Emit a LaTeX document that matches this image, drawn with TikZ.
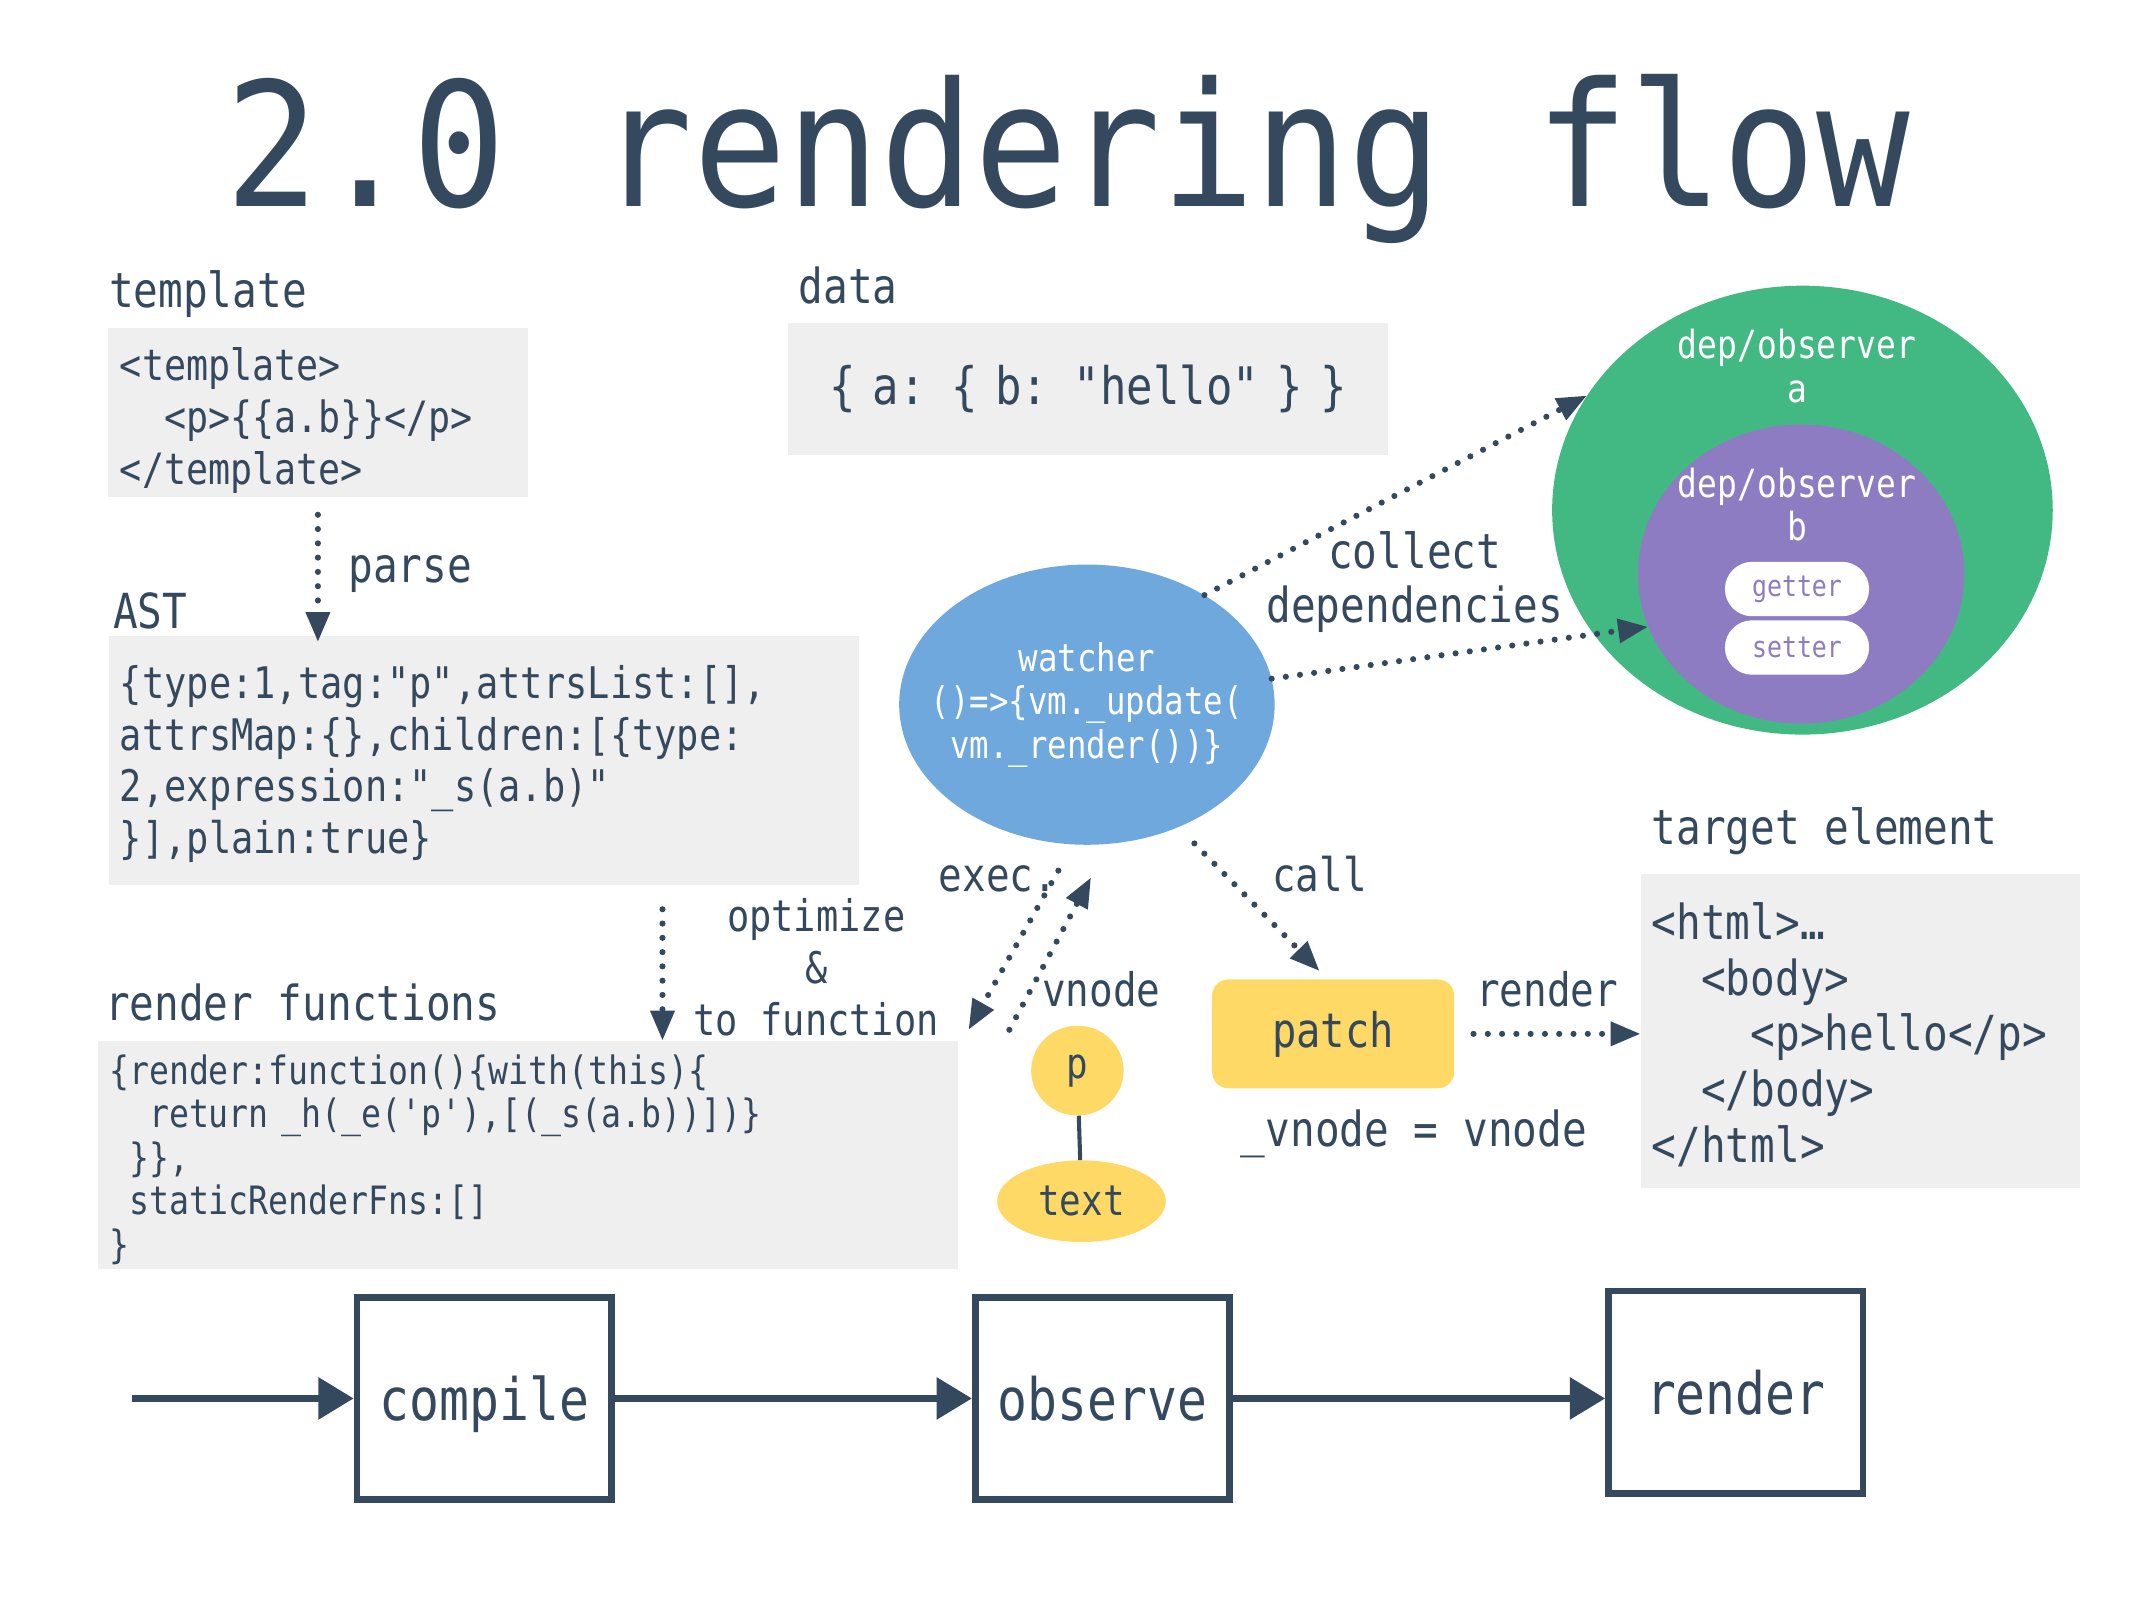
\documentclass[tikz,border=0pt]{standalone}
\usepackage{fontspec}
\setmonofont{DejaVu Sans Mono}[FakeStretch=0.85]
\newfontfamily\titlefont{DejaVu Sans Mono}[FakeStretch=0.9]
\usetikzlibrary{arrows.meta, positioning, shapes.geometric, calc}
\definecolor{vueDark}{HTML}{35495E}
\definecolor{vueGreen}{HTML}{42B983}
\definecolor{boxGray}{HTML}{EFEFEF}
\definecolor{watchBlue}{HTML}{6FA8DC}
\definecolor{depPurple}{HTML}{8E7CC3}
\definecolor{vnodeYellow}{HTML}{FFD966}
\newcommand{\fsize}[2]{\fontsize{#1}{#2}\selectfont}
\tikzset{
  lbl/.style={inner sep=0pt, anchor=mid west, text=vueDark,
              font=\ttfamily\fsize{35.5}{40}},
  codebox/.style={rectangle, fill=boxGray, anchor=north west, align=left,
                  inner ysep=0pt, text=vueDark},
  dotArrow/.style={vueDark, line width=4.5pt, line cap=round,
                   dash pattern=on 0pt off 10.5pt,
                   -{Triangle[length=22pt, width=17pt]}},
  flowArrow/.style={vueDark, line width=5pt, -{Triangle[length=26pt, width=30pt]}},
  stageBox/.style={rectangle, draw=vueDark, line width=5pt, minimum width=187pt,
                   minimum height=149pt, inner sep=0pt, text=vueDark, text depth=0pt,
                   font=\ttfamily\fsize{43}{43}},
  depText/.style={inner sep=0pt, text=white, align=center,
                  font=\ttfamily\fsize{28.5}{32}},
  accessor/.style={rectangle, rounded corners=20pt, fill=white, minimum width=106pt,
                   minimum height=40pt, inner sep=0pt, text=depPurple,
                   font=\ttfamily\fsize{21.5}{22}},
  vnodeBubble/.style={ellipse, fill=vnodeYellow, inner sep=0pt, text=vueDark,
                      font=\ttfamily\fsize{31}{31}},
}
\begin{document}
\begin{tikzpicture}[x=1pt, y=-1pt]
  \fill[white] (0,0) rectangle (1568,1176);
  \useasboundingbox (0,0) rectangle (1568,1176);

  % title
  \node[text=vueDark, font=\titlefont\fsize{127}{127}, anchor=base, inner sep=0pt]
    (title) at (785,152) {2.0 rendering flow};

  % compile side
  \node[lbl] (tplLbl) at (80,224) {template};
  \node[codebox, minimum width=309pt, minimum height=124pt, inner xsep=9pt,
        text width=291pt, font=\ttfamily\fsize{31.7}{38}] (tplBox) at (79,241)
    {\rule{0pt}{36pt}<template>\\\phantom{xx}<p>\{\{a.b\}\}</p>\\</template>};
  \node[lbl] (astLbl) at (83,460) {AST};
  \node[codebox, minimum width=551pt, minimum height=183pt, inner xsep=8pt,
        text width=535pt, font=\ttfamily\fsize{32}{38}] (astBox) at (80,467)
    {\rule{0pt}{30pt}\{type:1,tag:"p",attrsList:[],\\attrsMap:\{\},children:[\{type:\\2,expression:"\_s(a.b)"\\\}],plain:true\}};
  \node[lbl] (parseLbl) at (256,426) {parse};
  \node[lbl] (rfLbl) at (77,748) {render functions};
  \node[codebox, minimum width=632pt, minimum height=168pt, inner xsep=8pt,
        text width=616pt, font=\ttfamily\fsize{28.7}{32}] (rfBox) at (72,765)
    {\rule{0pt}{28pt}\{render:function()\{with(this)\{\\\phantom{xx}return \_h(\_e('p'),[(\_s(a.b))])\}\\\phantom{x}\}\},\\\phantom{x}staticRenderFns:[]\\\}};
  \node[lbl, anchor=center, align=center, font=\ttfamily\fsize{32}{38}]
    (optLbl) at (600,711) {optimize\\\&\\to function};

  % data and dependencies
  \node[lbl] (dataLbl) at (587,221) {data};
  \node[codebox, minimum width=441pt, minimum height=97pt, inner xsep=8pt,
        text width=425pt, align=center, font=\ttfamily\fsize{38}{40}] (dataBox) at (579,237)
    {\{ a: \{ b: "hello" \} \}};
  \node[ellipse, fill=vueGreen, minimum width=368pt, minimum height=330pt,
        inner sep=0pt] (depA) at (1325,375) {};
  \node[ellipse, fill=depPurple, minimum width=240pt, minimum height=220pt,
        inner sep=0pt] (depB) at (1324,422) {};
  \node[depText] (depAlbl) at (1321,269) {dep/observer\\a};
  \node[depText] (depBlbl) at (1321,371) {dep/observer\\b};
  \node[accessor] (getter) at (1321,433) {getter};
  \node[accessor] (setter) at (1321,476) {setter};

  \node[ellipse, fill=watchBlue, minimum width=276pt, minimum height=206pt,
        inner sep=0pt] (watcher) at (799,518) {};
  \node[inner sep=0pt, text=white, align=center, font=\ttfamily\fsize{28}{32}]
    (watcherLbl) at (watcher.center) {watcher\\()=>\{vm.\_update(\\vm.\_render())\}};
  \node[lbl, anchor=center, align=center] (collectLbl) at (1040,428) {collect\\dependencies};

  % vnode and patch
  \node[lbl, font=\ttfamily\fsize{34}{34}] (execLbl) at (690,653) {exec.};
  \node[lbl, font=\ttfamily\fsize{34}{34}] (callLbl) at (935,653) {call};
  \node[lbl, font=\ttfamily\fsize{34}{34}] (vnodeLbl) at (766,738) {vnode};
  \node[vnodeBubble, minimum width=68pt, minimum height=66pt] (vp) at (792,787) {p};
  \node[vnodeBubble, minimum width=124pt, minimum height=60pt] (vtext) at (795,883) {text};
  \node[rectangle, rounded corners=12pt, fill=vnodeYellow, minimum width=178pt,
        minimum height=80pt, inner sep=0pt, text=vueDark,
        font=\ttfamily\fsize{35}{35}] (patch) at (980,760) {patch};
  \node[lbl, font=\ttfamily\fsize{34}{34}] (renderLbl) at (1085,738) {render};
  \node[lbl] (assignLbl) at (912,841) {\_vnode = vnode};
  \node[lbl] (targetLbl) at (1214,619) {target element};
  \node[codebox, minimum width=323pt, minimum height=231pt, inner xsep=8pt,
        text width=307pt, font=\ttfamily\fsize{35.5}{41}] (htmlBox) at (1206,642)
    {\rule{0pt}{33pt}<html>…\\\phantom{xx}<body>\\\phantom{xxxx}<p>hello</p>\\\phantom{xx}</body>\\</html>};

  % dotted connectors
  \coordinate (execTail) at (778,640);
  \coordinate (execTip) at (712,757);
  \coordinate (vnodeTail) at (742,757);
  \coordinate (vnodeTip) at (802,645);
  \coordinate (callTail) at (878,620);
  \draw[dotArrow, shorten <=13pt, shorten >=-5pt] (tplBox.south) -- (tplBox.south |- astBox.north);
  \draw[dotArrow] ($(astBox.south west)+(407,18)$) -- ($(rfBox.north west)+(415,0)$);
  \draw[dotArrow] (watcher.43) -- (depA.152);
  \draw[dotArrow] (watcher.8) -- (depB.199);
  \draw[dotArrow] (execTail) -- (execTip);
  \draw[dotArrow] (vnodeTail) -- (vnodeTip);
  \draw[dotArrow] (callTail) -- ([xshift=-10pt, yshift=6pt]patch.north);
  \draw[dotArrow, shorten <=14pt] (patch.east) -- (htmlBox.west |- patch.east);
  \draw[vueDark, line width=3pt] (vp) -- (vtext);

  % stages
  \node[stageBox] (compile) at (356,1028) {compile};
  \node[stageBox] (observe) at (810.5,1028) {observe};
  \node[stageBox] (render) at (1276,1023.5) {render};
  \coordinate (flowStart) at (97,1028);
  \draw[flowArrow] (flowStart) -- (compile.west);
  \draw[flowArrow] (compile.east) -- (observe.west);
  \draw[flowArrow] (observe.east) -- (observe.east -| render.west);
\end{tikzpicture}
\end{document}
